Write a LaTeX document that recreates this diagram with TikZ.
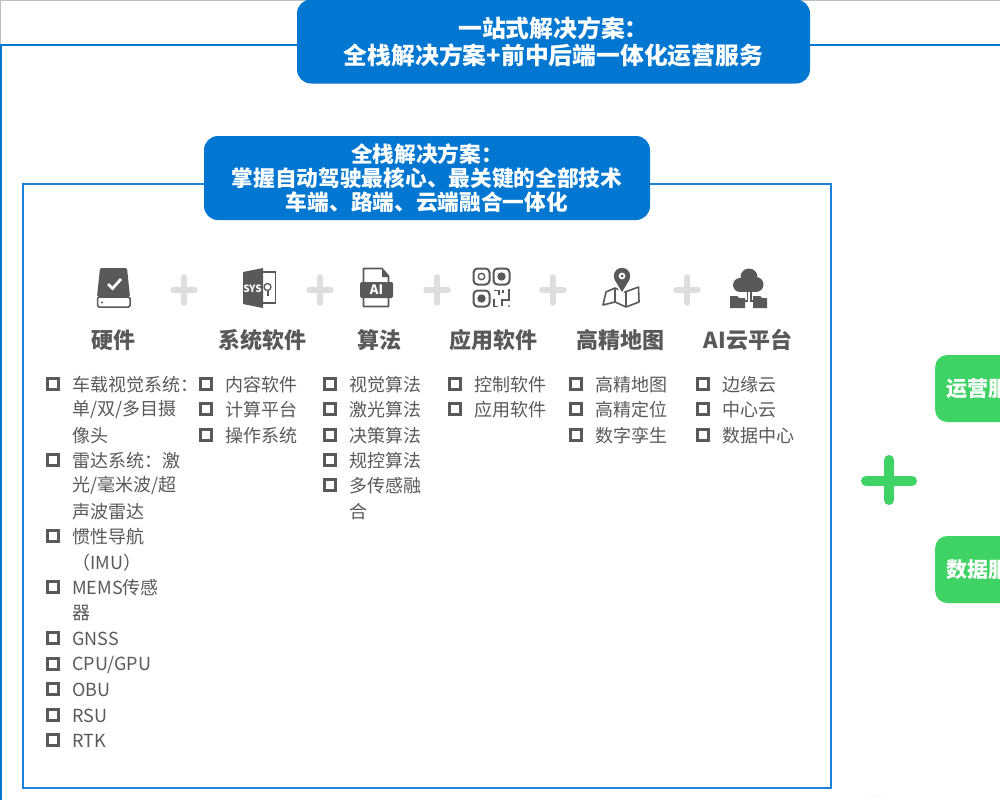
\documentclass[tikz,border=0pt]{standalone}
\usepackage{fontspec}
\setmainfont{Noto Sans CJK SC}
\usepackage{xcolor}
\definecolor{pillblue}{HTML}{0277D1}
\definecolor{framegblue}{HTML}{1A84DC}
\definecolor{servgreen}{HTML}{3FD264}
\definecolor{icongray}{HTML}{595959}
\definecolor{plusgray}{HTML}{DEDEDE}
\tikzset{
  pillbox/.style={fill=pillblue, rounded corners=14pt, inner sep=0pt, align=center,
                  text=white, font=\bfseries\fontsize{21.7}{24}\selectfont},
  servbox/.style={fill=servgreen, rounded corners=12pt, inner ysep=0pt, inner xsep=11pt, anchor=west,
                  text width=108pt, align=left, minimum height=67pt, text=white,
                  font=\bfseries\fontsize{21}{24}\selectfont},
  frameline/.style={draw=framegblue, line width=1.8pt},
  plusmark/.style={draw=plusgray, line width=5.5pt, line cap=round},
  headtext/.style={text=icongray, inner sep=0pt, font=\bfseries\fontsize{22}{24}\selectfont},
  itemtext/.style={text=icongray, inner sep=0pt, anchor=west, yshift=-0.5pt, font=\fontsize{18}{20}\selectfont},
  bulletbox/.style={draw=icongray, line width=2.6pt, minimum size=10.5pt, inner sep=0pt},
  iconword/.style={text=white, inner sep=0pt, font=\bfseries\fontsize{#1}{#1}\selectfont}
}
\begin{document}
\begin{tikzpicture}[x=1pt, y=-1pt]
  \clip (0,0) rectangle (1000,800);
  % outer frame
  \draw[draw=lightgray, line width=1.2pt] (0,0.5) -- (1000,0.5);
  \draw[draw=lightgray, line width=1pt] (0.5,0.5) -- (0.5,45);
  \draw[frameline, draw=pillblue] (1000,45) -- (1,45) -- (1,800);
  \node[pillbox, minimum width=513pt, minimum height=84pt,
        font=\bfseries\fontsize{23.8}{27}\selectfont] (top) at (553.5,41.5)
    {\raisebox{-2pt}{一站式解决方案：}\\\raisebox{-2pt}{全栈解决方案+前中后端一体化运营服务}};
  % inner frame
  \draw[frameline] (23,184) rectangle (831,788);
  \node[pillbox, minimum width=446pt, minimum height=84pt] (full) at (427,178)
    {全栈解决方案：\\掌握自动驾驶最核心、最关键的全部技术\\车端、路端、云端融合一体化};
  % heads
  \foreach \hx/\hname/\htext in {113/hw/硬件, 262/sys/系统软件, 379/algo/算法,
                                 493/app/应用软件, 620/map/高精地图, 748/cloud/AI云平台}
    \node[headtext] (\hname) at (\hx,340) {\htext};
  \foreach \px in {184,320,437,553,687} {
    \draw[plusmark] (\px-11,290) -- (\px+11,290);
    \draw[plusmark] (\px,277) -- (\px,303);
  }
  % hardware icon
  \fill[icongray, rounded corners=1.5pt] (100,268) -- (127,268) -- (130,297) -- (97,297) -- cycle;
  \draw[icongray, line width=1.5pt, rounded corners=1.5pt] (97.5,297) rectangle (130,307);
  \fill[icongray] (102,302.5) circle (1.2);
  \draw[white, line width=2.8pt] (108,284) -- (112.5,288.5) -- (121,279);
  % system icon
  \fill[icongray] (243,272) -- (263,268) -- (263,308) -- (243,304) -- cycle;
  \draw[icongray, line width=1.4pt] (263,272) -- (275.5,272) -- (275.5,303) -- (263,303);
  \node[iconword=10] (sysword) at (252.5,289) {SYS};
  \draw[icongray, line width=1.3pt] (267.5,287) circle (3.5);
  \draw[icongray, line width=1.3pt] (268,291) -- (268,296);
  % algorithm icon
  \draw[icongray, line width=1.6pt, line join=round] (363.5,282) -- (363.5,268.5) -- (382,268.5)
    -- (388.5,276) -- (388.5,306.5) -- (363.5,306.5) -- (363.5,298);
  \fill[icongray] (382,268) -- (389,277) -- (382,277) -- cycle;
  \fill[icongray, rounded corners=1.5pt] (360,282) rectangle (393,298);
  \node[iconword=13] (aiword) at (376.5,290) {AI};
  % app icon
  \foreach \qx/\qy in {481.5/276.5, 501.5/276.5, 481.5/298.5} {
    \draw[icongray, line width=2pt, rounded corners=4pt] (\qx-8,\qy-8) rectangle (\qx+8,\qy+8);
  }
  \draw[icongray, line width=1.4pt] (481.5,276.5) circle (3.2);
  \fill[icongray] (501.5,276.5) circle (4.2);
  \fill[icongray] (481.5,298.5) circle (4.2);
  \draw[icongray, line width=1.6pt] (494,290.5) -- (499,290.5) -- (499,295);
  \draw[icongray, line width=1.6pt] (503,290) -- (503,293);
  \draw[icongray, line width=1.6pt] (509,289) -- (509,300) -- (502,300) -- (502,306);
  \draw[icongray, line width=1.6pt] (494,299) -- (494,306.5) -- (498,306.5);
  \fill[icongray] (509,306) circle (1);
  % map icon
  \draw[icongray, line width=1.6pt, line join=round] (603,305) -- (606,292) -- (615,288) -- (625,292)
    -- (638.5,287) -- (639,302) -- (626,307) -- (615,302) -- cycle;
  \draw[icongray, line width=1.4pt] (615,288) -- (615,302);
  \draw[icongray, line width=1.4pt] (626,292) -- (626,307);
  \fill[white] (612,280) -- (622,294.5) -- (632,280) -- cycle;
  \fill[icongray] (622,276) circle (8.2);
  \fill[icongray] (614.5,279.5) -- (622,292) -- (629.5,279.5) -- cycle;
  \fill[white] (622,276) circle (3.4);
  \fill[icongray] (622,276) circle (1.5);
  % cloud icon
  \fill[icongray] (749,277) circle (8.5);
  \fill[icongray] (740,285) circle (7);
  \fill[icongray] (756,284.5) circle (7.5);
  \fill[icongray] (740,282) rectangle (756,292);
  \draw[icongray, line width=1.4pt] (747.5,290) -- (747.5,301) -- (745,301);
  \draw[icongray, line width=1.4pt] (751,290) -- (751,301) -- (753,301);
  \fill[icongray] (730,308) -- (730,296) -- (737,296) -- (739,298) -- (745,298) -- (745,308) -- cycle;
  \fill[icongray] (753,308) -- (753,296) -- (760,296) -- (762,298) -- (767,298) -- (767,308) -- cycle;
  % lists
  \foreach \lx/\ly/\ltext in {72/384/车载视觉系统：, 72/409/{单/双/多目摄}, 72/435/像头, 72/460/雷达系统：激,
      72/485/{光/毫米波/超}, 72/511/声波雷达, 72/536/惯性导航, 72/562/（IMU）, 72/587/MEMS传感, 72/613/器,
      72/638/GNSS, 72/664/{CPU/GPU}, 72/689/OBU, 72/715/RSU, 72/740/RTK,
      225/384/内容软件, 225/409/计算平台, 225/435/操作系统,
      349/384/视觉算法, 349/409/激光算法, 349/435/决策算法, 349/460/规控算法, 349/485/多传感融, 349/511/合,
      474/384/控制软件, 474/409/应用软件,
      595/384/高精地图, 595/409/高精定位, 595/435/数字孪生,
      722/384/边缘云, 722/409/中心云, 722/435/数据中心}
    \node[itemtext] (item-\lx-\ly) at (\lx,\ly) {\ltext};
  \foreach \bx/\by in {53/384, 53/460, 53/536, 53/587, 53/638, 53/664, 53/689, 53/715, 53/740,
      206/384, 206/409, 206/435,
      330/384, 330/409, 330/435, 330/460, 330/485,
      455/384, 455/409,
      576/384, 576/409, 576/435,
      703/384, 703/409, 703/435}
    \node[bulletbox] (box-\bx-\by) at (\bx,\by) {};
  % services
  \node[servbox] (ops) at (935,388.5) {运营服务};
  \node[servbox] (data) at (935,569.5) {数据服务};
  \draw[servgreen, line width=10pt, line cap=round] (866,481) -- (912,481);
  \draw[servgreen, line width=10pt, line cap=round] (889,460) -- (889,500);
  \draw[plusgray, densely dotted, line width=0.5pt] (865,799) .. controls (872,794) and (880,794) .. (887,799);
\end{tikzpicture}
\end{document}
